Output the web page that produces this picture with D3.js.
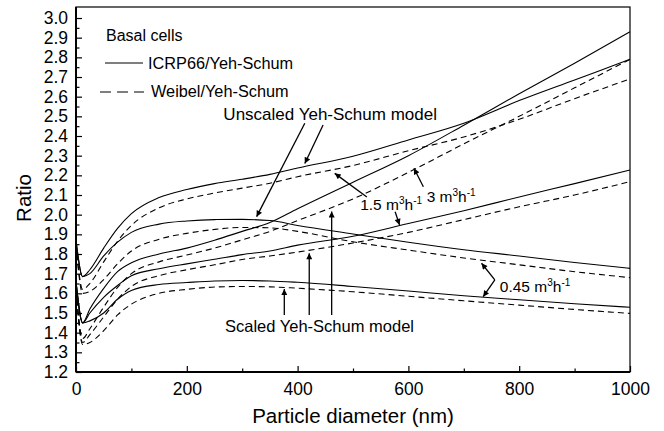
<!DOCTYPE html>
<html>
<head>
<meta charset="utf-8">
<script src="https://cdn.jsdelivr.net/npm/d3@7"></script>
<style>
  body { margin: 0; background: #fff; }
  .chart text { font-family: 'Liberation Sans', Arial, sans-serif; fill: #000; }
</style>
</head>
<body>
<div class="chart"></div>
<script>
// particle diameter (nm) where the curves were read
const diameters = [0, 12, 25, 50, 75, 100, 150, 200, 250, 300, 350, 400, 500, 600, 700, 800, 900, 1000];

// ICRP66/Yeh-Schum (solid) and Weibel/Yeh-Schum (dashed)
const icrpUnscaled15 = [1.87, 1.685, 1.72, 1.83, 1.93, 2.005, 2.087, 2.128, 2.158, 2.18, 2.205, 2.237, 2.297, 2.38, 2.465, 2.58, 2.685, 2.79];
const weibelUnscaled15 = [1.85, 1.62, 1.65, 1.76, 1.865, 1.945, 2.035, 2.08, 2.11, 2.135, 2.16, 2.193, 2.25, 2.325, 2.395, 2.485, 2.59, 2.69];
const icrpUnscaled045 = [1.87, 1.685, 1.7, 1.79, 1.86, 1.91, 1.952, 1.968, 1.975, 1.976, 1.97, 1.945, 1.902, 1.86, 1.822, 1.79, 1.757, 1.727];
const weibelUnscaled045 = [1.85, 1.6, 1.61, 1.67, 1.75, 1.815, 1.875, 1.905, 1.925, 1.935, 1.933, 1.915, 1.862, 1.82, 1.78, 1.745, 1.71, 1.68];
const icrpScaled3 = [1.66, 1.45, 1.52, 1.625, 1.71, 1.755, 1.8, 1.83, 1.87, 1.915, 1.96, 2.03, 2.165, 2.3, 2.455, 2.615, 2.77, 2.93];
const weibelScaled3 = [1.62, 1.37, 1.42, 1.53, 1.63, 1.7, 1.76, 1.795, 1.83, 1.872, 1.915, 1.97, 2.08, 2.215, 2.36, 2.5, 2.645, 2.79];
const icrpScaled15 = [1.66, 1.45, 1.5, 1.58, 1.64, 1.69, 1.725, 1.75, 1.773, 1.797, 1.815, 1.845, 1.89, 1.955, 2.02, 2.09, 2.158, 2.227];
const weibelScaled15 = [1.62, 1.35, 1.39, 1.48, 1.57, 1.635, 1.69, 1.72, 1.745, 1.772, 1.79, 1.81, 1.856, 1.91, 1.975, 2.04, 2.1, 2.168];
const icrpScaled045 = [1.66, 1.45, 1.46, 1.5, 1.57, 1.615, 1.645, 1.655, 1.663, 1.665, 1.663, 1.656, 1.635, 1.612, 1.588, 1.567, 1.547, 1.529];
const weibelScaled045 = [1.62, 1.34, 1.35, 1.41, 1.49, 1.545, 1.6, 1.62, 1.632, 1.635, 1.633, 1.626, 1.608, 1.585, 1.562, 1.54, 1.518, 1.498];

const xMajorTicks = [0, 200, 400, 600, 800, 1000];
const xMinorTicks = [100, 300, 500, 700, 900];
const yMajorTicks = [1.2, 1.3, 1.4, 1.5, 1.6, 1.7, 1.8, 1.9, 2.0, 2.1, 2.2, 2.3, 2.4, 2.5, 2.6, 2.7, 2.8, 2.9, 3.0];
const yTickLabels = ['1.2', '1.3', '1.4', '1.5', '1.6', '1.7', '1.8', '1.9', '2.0', '2.1', '2.2', '2.3', '2.4', '2.5', '2.6', '2.7', '2.8', '2.9', '3.0'];
const yMinorTicks = [1.25, 1.35, 1.45, 1.55, 1.65, 1.75, 1.85, 1.95, 2.05, 2.15, 2.25, 2.35, 2.45, 2.55, 2.65, 2.75, 2.85, 2.95];

// annotation labels, placed at [diameter, ratio]
const labels = [
  { text: 'Unscaled Yeh-Schum model', d: 266, v: 2.48, size: 17 },
  { flow: '1.5', d: 513, v: 2.024 },
  { flow: '3', d: 633, v: 2.066 },
  { flow: '0.45', d: 765, v: 1.609 },
  { text: 'Scaled Yeh-Schum model', d: 269, v: 1.401, size: 16.5 },
];

// arrows: from [d, v] to [d, v]
const arrows = [
  [[413, 2.465], [326, 1.99]],
  [[446, 2.456], [413, 2.26]],
  [[525, 2.09], [467, 2.21]],
  [[576, 2.015], [584, 1.948]],
  [[627, 2.142], [610, 2.236]],
  [[756, 1.668], [732, 1.753]],
  [[756, 1.668], [735, 1.583]],
  [[376, 1.49], [376, 1.622]],
  [[421, 1.49], [421, 1.804]],
  [[461.5, 1.49], [461.5, 2.016]],
];

const series = [
  { values: icrpUnscaled15, dashed: false },
  { values: weibelUnscaled15, dashed: true },
  { values: icrpUnscaled045, dashed: false },
  { values: weibelUnscaled045, dashed: true },
  { values: icrpScaled3, dashed: false },
  { values: weibelScaled3, dashed: true },
  { values: icrpScaled15, dashed: false },
  { values: weibelScaled15, dashed: true },
  { values: icrpScaled045, dashed: false },
  { values: weibelScaled045, dashed: true },
];

const width = 664;
const height = 431;
const margin = { top: 7, right: 34, bottom: 59, left: 76 };
const chart_width = width - margin.left - margin.right;
const chart_height = height - margin.top - margin.bottom;

const svg = d3
  .select('.chart')
  .append('svg')
  .attr('width', width)
  .attr('height', height);

svg
  .append('defs')
  .append('marker')
  .attr('id', 'head')
  .attr('viewBox', '0 0 10 10')
  .attr('refX', 10)
  .attr('refY', 5)
  .attr('markerUnits', 'userSpaceOnUse')
  .attr('markerWidth', 8)
  .attr('markerHeight', 6)
  .attr('orient', 'auto')
  .append('path')
  .attr('d', 'M0,0L10,5L0,10Z')
  .attr('fill', '#000');

const g = svg
  .append('g')
  .attr('transform', 'translate(' + margin.left + ',' + margin.top + ')');

const x = d3.scaleLinear().domain([0, 1000]).range([0, chart_width]);
const y = d3.scaleLinear().domain([1.2, 3.056]).range([chart_height, 0]);

const line = d3
  .line()
  .x((d, i) => x(diameters[i]))
  .y(d => y(d))
  .curve(d3.curveMonotoneX);

g.selectAll('.series')
  .data(series)
  .enter()
  .append('path')
  .attr('class', 'series')
  .attr('d', d => line(d.values))
  .attr('fill', 'none')
  .attr('stroke', '#000')
  .attr('stroke-width', 1.1)
  .attr('stroke-dasharray', d => (d.dashed ? '6,4' : null));

// frame
g.append('rect')
  .attr('width', chart_width)
  .attr('height', chart_height)
  .attr('fill', 'none')
  .attr('stroke', '#000')
  .attr('stroke-width', 1.2);

// axes
const xAxis = g
  .append('g')
  .attr('transform', 'translate(0,' + chart_height + ')')
  .call(d3.axisBottom(x).tickValues(xMajorTicks).tickSize(-6).tickPadding(11).tickFormat(d3.format('d')));
g.append('g')
  .attr('transform', 'translate(0,' + chart_height + ')')
  .call(d3.axisBottom(x).tickValues(xMinorTicks).tickSize(-3.5).tickFormat(''))
  .select('.domain').remove();

const yAxis = g
  .append('g')
  .call(d3.axisLeft(y).tickValues(yMajorTicks).tickSize(-6).tickPadding(8).tickFormat((d, i) => yTickLabels[i]));
g.append('g')
  .call(d3.axisLeft(y).tickValues(yMinorTicks).tickSize(-3.5).tickFormat(''))
  .select('.domain').remove();

g.selectAll('.tick line').attr('stroke', '#000').attr('stroke-width', 1.2);
[xAxis, yAxis].forEach(a => {
  a.select('.domain').attr('stroke', '#000').attr('stroke-width', 2);
  a.selectAll('.tick text').style('font-size', '17.5px').attr('fill', '#000');
});
xAxis.select('.domain').attr('d', 'M0,0H' + chart_width);
yAxis.select('.domain').attr('d', 'M0,' + y(1.2) + 'V' + y(3.056));

// axis titles
svg
  .append('text')
  .attr('x', margin.left + chart_width / 2)
  .attr('y', 423)
  .attr('text-anchor', 'middle')
  .style('font-size', '20.5px')
  .text('Particle diameter (nm)');

svg
  .append('text')
  .attr('transform', 'translate(31,198) rotate(-90)')
  .attr('text-anchor', 'middle')
  .style('font-size', '20.5px')
  .text('Ratio');

// legend
const legend = g.append('g').attr('class', 'legend');
legend
  .append('text')
  .attr('x', 30)
  .attr('y', 34)
  .style('font-size', '16px')
  .text('Basal cells');
legend
  .append('line')
  .attr('x1', 29)
  .attr('x2', 67)
  .attr('y1', 56)
  .attr('y2', 56)
  .attr('stroke', '#000')
  .attr('stroke-width', 1.1);
legend
  .append('text')
  .attr('x', 72)
  .attr('y', 62)
  .style('font-size', '16.3px')
  .text('ICRP66/Yeh-Schum');
legend
  .append('line')
  .attr('x1', 24)
  .attr('x2', 68)
  .attr('y1', 85)
  .attr('y2', 85)
  .attr('stroke', '#000')
  .attr('stroke-width', 1.1)
  .attr('stroke-dasharray', '11,6');
legend
  .append('text')
  .attr('x', 75)
  .attr('y', 90)
  .style('font-size', '16.3px')
  .text('Weibel/Yeh-Schum');

// annotations
g.selectAll('.arrow')
  .data(arrows)
  .enter()
  .append('line')
  .attr('class', 'arrow')
  .attr('x1', d => x(d[0][0]))
  .attr('y1', d => y(d[0][1]))
  .attr('x2', d => x(d[1][0]))
  .attr('y2', d => y(d[1][1]))
  .attr('stroke', '#000')
  .attr('stroke-width', 1.3)
  .attr('marker-end', 'url(#head)');

const ann = g
  .selectAll('.ann')
  .data(labels)
  .enter()
  .append('text')
  .attr('class', 'ann')
  .attr('x', d => x(d.d))
  .attr('y', d => y(d.v))
  .style('font-size', d => (d.size || 15.5) + 'px');

ann.each(function(d) {
  const t = d3.select(this);
  if (d.text) {
    t.text(d.text);
    return;
  }
  t.append('tspan').text(d.flow + ' m');
  t.append('tspan').attr('dy', -6).style('font-size', '10px').text('3');
  t.append('tspan').attr('dy', 6).text('h');
  t.append('tspan').attr('dy', -6).style('font-size', '10px').text('-1');
});
</script>
</body>
</html>
